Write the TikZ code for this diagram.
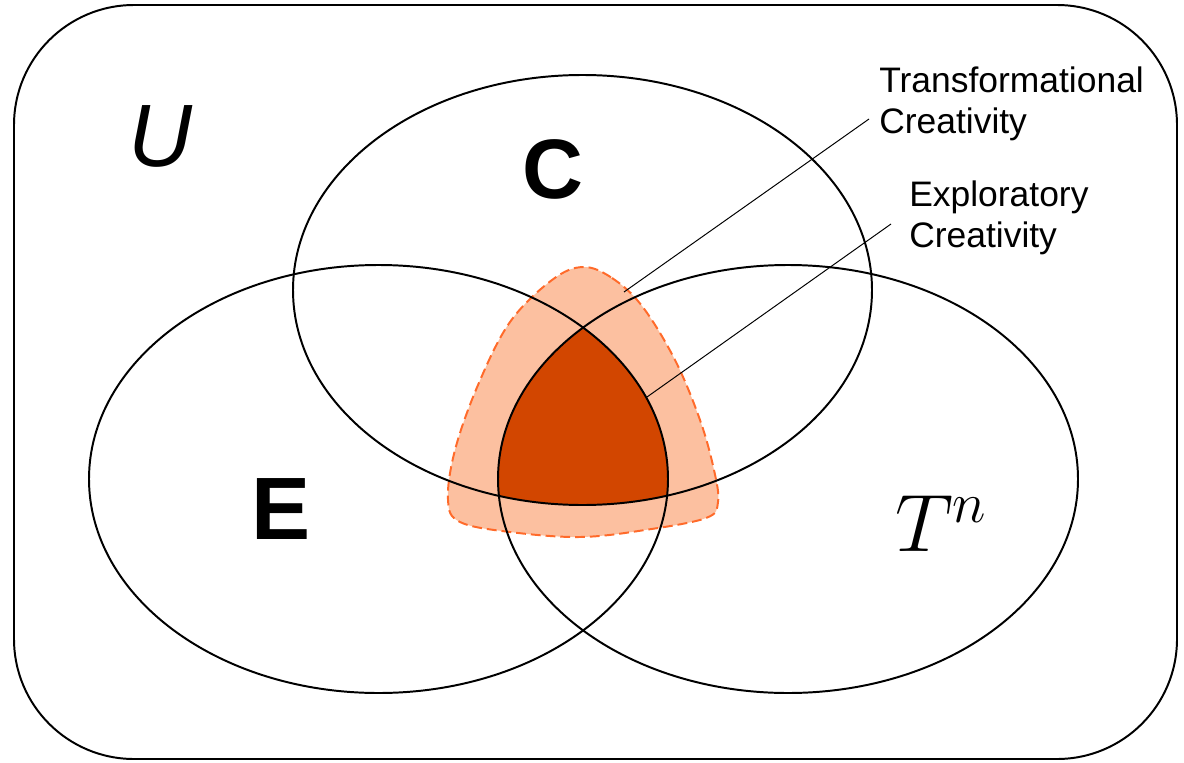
\RequirePackage{fix-cm}
\documentclass[tikz,border=0pt]{standalone}
\usepackage{fontspec}
\setmainfont{Liberation Sans}
\begin{document}
\begin{tikzpicture}[x=0.025cm,y=-0.025cm,
  setline/.style={line width=1.4pt,black},
  leader/.style={line width=0.7pt,black},
  lbl/.style={inner sep=0pt,align=left,anchor=north west,font=\fontsize{25.2}{28.5}\selectfont},
  big/.style={inner sep=0pt}]
\definecolor{peach}{RGB}{252,192,160}
\definecolor{darkor}{RGB}{210,70,0}
\definecolor{dashor}{RGB}{255,106,42}
\useasboundingbox (0,0) rectangle (1184,763);
% universe
\draw[setline,rounded corners=3cm] (14,5) rectangle (1177,759);
% transformational region
\draw[fill=peach,draw=dashor,line width=1.4pt,dash pattern=on 7pt off 3.5pt]
  plot[smooth cycle,tension=0.6] coordinates {
   (583,267) (612,278) (642,306) (675,360) (700,420) (714,470) (718,502)
   (706,518) (645,530) (580,537) (510,532) (460,522) (448,500) (455,450)
   (478,385) (510,322) (552,280)};
% exploratory region (triple intersection)
\begin{scope}
  \clip (582.5,290) ellipse (289.5 and 215);
  \clip (378.5,479) ellipse (289.5 and 214);
  \fill[darkor] (788,479) ellipse (290 and 214);
\end{scope}
% sets
\draw[setline] (582.5,290) ellipse (289.5 and 215);
\draw[setline] (378.5,479) ellipse (289.5 and 214);
\draw[setline] (788,479) ellipse (290 and 214);
% labels
\node[big,font=\itshape\fontsize{63}{63}\selectfont] (U) at (160,136) {U};
\node[big,font=\bfseries\fontsize{60}{60}\selectfont] (C) at (553,169) {C};
\node[big,font=\bfseries\fontsize{63}{63}\selectfont] (E) at (281,509) {E};
\node[big,font=\fontsize{58}{58}\selectfont] (T) at (941,524) {$T^n$};
\node[lbl] (TC) at (879,67) {Transformational\\Creativity};
\node[lbl] (EC) at (909,181) {Exploratory\\Creativity};
% leaders
\coordinate (tp) at (624,292);
\coordinate (te) at (869,119);
\coordinate (ep) at (647,397);
\coordinate (ee) at (891,224);
\draw[leader] (tp) -- (te);
\draw[leader] (ep) -- (ee);
\end{tikzpicture}
\end{document}
